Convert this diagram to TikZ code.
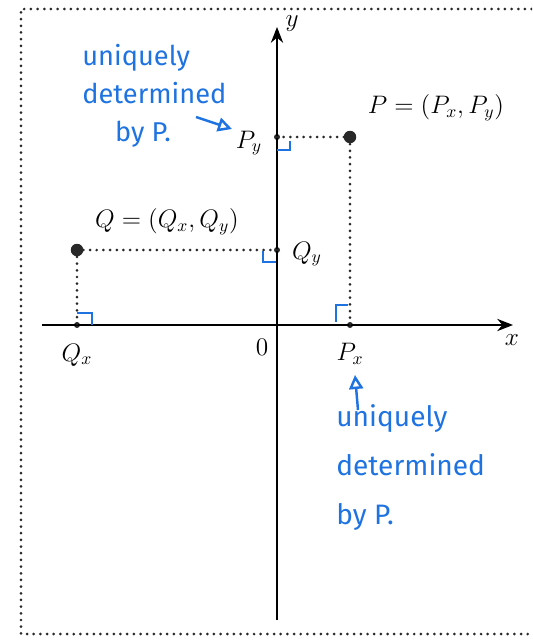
\documentclass[tikz,border=0pt]{standalone}
\usepackage{fontspec}
\newfontfamily\hand{Fira Sans}
\usetikzlibrary{arrows.meta}
\definecolor{pen}{RGB}{30,115,225}
\definecolor{dotc}{RGB}{40,40,40}
\begin{document}
\begin{tikzpicture}[x=0.02cm,y=-0.02cm,
  font=\fontsize{14.5}{17}\selectfont,
  dotline/.style={line width=1.7pt, dash pattern=on 0pt off 3.8pt, line cap=round, dotc},
  axisline/.style={line width=0.9pt,-{Stealth[length=9pt,width=7pt]}},
  bigdot/.style={circle,fill=dotc,inner sep=0pt,minimum size=0.25cm},
  smalldot/.style={circle,fill=dotc,inner sep=0pt,minimum size=0.12cm},
  ra/.style={pen,line width=1.4pt},
  hw/.style={pen,font=\hand\fontsize{15.5}{21.6}\selectfont,align=left,inner sep=0pt},
  penarrow/.style={pen,line width=1.4pt,-{Triangle[open,length=8pt,width=8pt]}}]
\useasboundingbox (0,0) rectangle (532,640);
\clip (0,0) rectangle (532,640);
% frame
\draw[dotline] (545,9) -- (21,9) -- (21,634) -- (545,634);
% points
\coordinate (O) at (277,325);
\node[bigdot] (P) at (350,137) {};
\node[smalldot] (Py) at (277,137) {};
\node[smalldot] (Px) at (350,325) {};
\node[bigdot] (Q) at (77,250) {};
\node[smalldot] (Qy) at (277,250) {};
\node[smalldot] (Qx) at (77,325) {};
% axes
\coordinate (xs) at (42,325);
\coordinate (xe) at (513,325);
\coordinate (ys) at (277,620);
\coordinate (ye) at (277,27);
\draw[axisline] (xs) -- (xe);
\draw[axisline] (ys) -- (ye);
% projections
\draw[dotline] (Py.center) -- (P.center) -- (Px.center);
\draw[dotline] (Qy.center) -- (Q.center) -- (Qx.center);
% labels
\node (Plab) at (436,108) {$P=(P_x,P_y)$};
\node (Pylab) at (249,143) {$P_y$};
\node (Qlab) at (167,222) {$Q=(Q_x,Q_y)$};
\node (Qylab) at (307,254) {$Q_y$};
\node (Qxlab) at (77,355) {$Q_x$};
\node (Olab) at (262,347) {$0$};
\node (Pxlab) at (350,354) {$P_x$};
\node (xlab) at (512,340) {$x$};
\node (ylab) at (292,24) {$y$};
% right-angle marks
\draw[ra] (Py) ++(0,13) -- ++(13,0) -- ++(0,-9);
\draw[ra] (Qy) ++(-14,1) -- ++(0,11) -- ++(13,0);
\draw[ra] (Qx) ++(0,-12) -- ++(15,0) -- ++(0,12);
\draw[ra] (Px) ++(-14,-3) -- ++(0,-17) -- ++(12,0);
% handwritten notes
\node[hw,anchor=north west] (t1) at (82,44) {uniquely\\determined\\\hspace*{1.2em}by P.};
\coordinate (a1s) at (196,117);
\coordinate (a1e) at (232,129);
\draw[penarrow] (a1s) -- (a1e);
\node[hw,anchor=north west,font=\hand\fontsize{16}{28}\selectfont] (t2) at (336,404) {uniquely\\determined\\by P.};
\coordinate (a2s) at (358,410);
\coordinate (a2e) at (355,375);
\draw[penarrow] (a2s) -- (a2e);
\end{tikzpicture}
\end{document}
